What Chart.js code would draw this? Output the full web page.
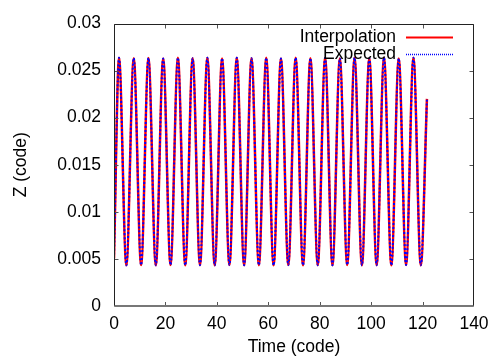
<!DOCTYPE html>
<html>
<head>
<meta charset="utf-8">
<script src="https://cdn.jsdelivr.net/npm/chart.js@4/dist/chart.umd.min.js"></script>
<style>
    html, body { margin: 0; padding: 0; background: #fff; }
    #wrap { width: 504px; height: 360px; }
</style>
</head>
<body>
<div id="wrap"><canvas id="zChart"></canvas></div>
<script>
// values (start, then peak / trough pairs, then end)
const seriesLabels = ['Interpolation', 'Expected'];
const timeValues = [
    0, 1.95, 4.81, 7.68, 10.54, 13.40, 16.26, 19.13, 21.99, 24.85, 27.71,
    30.58, 33.44, 36.30, 39.16, 42.03, 44.89, 47.75, 50.61, 53.48, 56.34,
    59.20, 62.06, 64.93, 67.79, 70.65, 73.51, 76.38, 79.24, 82.10, 84.96,
    87.83, 90.69, 93.55, 96.41, 99.28, 102.14, 105.00, 107.86, 110.73, 113.59,
    116.45, 119.31, 121.7
];
const zValues = [
    0.00505, 0.02635, 0.00432, 0.02632, 0.00435, 0.02634, 0.00432, 0.02628, 0.00436, 0.02636, 0.00432,
    0.02630, 0.00434, 0.02635, 0.00432, 0.02629, 0.00436, 0.02636, 0.00432, 0.02630, 0.00434,
    0.02635, 0.00432, 0.02628, 0.00436, 0.02636, 0.00432, 0.02631, 0.00434, 0.02635, 0.00432,
    0.02629, 0.00436, 0.02636, 0.00432, 0.02630, 0.00434, 0.02635, 0.00432, 0.02628, 0.00436,
    0.02636, 0.00432, 0.02200
];
const xTicks = [0, 20, 40, 60, 80, 100, 120, 140];
const yTicks = [0, 0.005, 0.01, 0.015, 0.02, 0.025, 0.03];

const points = timeValues.map((t, i) => ({ x: t, y: zValues[i] }));
const fontFamily = '"Liberation Sans", Arial, sans-serif';
const fontSize = 17.5;

// gnuplot style frame, inward ticks and right-aligned key
const framePlugin = {
    id: 'gnuplotFrame',
    afterDatasetsDraw(chart) {
        const ctx = chart.ctx;
        const area = chart.chartArea;
        const xs = chart.scales.x;
        const ys = chart.scales.y;
        const l = Math.round(area.left) + 0.5;
        const r = Math.round(area.right) - 0.5;
        const t = Math.round(area.top) + 0.5;
        const b = Math.round(area.bottom);
        ctx.save();
        ctx.strokeStyle = '#555';
        ctx.lineWidth = 1;
        ctx.beginPath();
        xTicks.forEach(v => {
            const px = Math.min(Math.round(xs.getPixelForValue(v)) + 0.5, r);
            ctx.moveTo(px, b); ctx.lineTo(px, b - 4);
            ctx.moveTo(px, t); ctx.lineTo(px, t + 4);
        });
        yTicks.forEach(v => {
            const py = Math.round(ys.getPixelForValue(v)) + 0.5;
            ctx.moveTo(l, py); ctx.lineTo(l + 4, py);
            ctx.moveTo(r, py); ctx.lineTo(r - 4, py);
        });
        ctx.stroke();

        ctx.strokeStyle = '#222';
        ctx.beginPath();
        ctx.moveTo(l, b); ctx.lineTo(l, t); ctx.lineTo(r, t); ctx.lineTo(r, b);
        ctx.stroke();
        ctx.strokeStyle = '#777';
        ctx.lineWidth = 2;
        ctx.beginPath();
        ctx.moveTo(l, b); ctx.lineTo(r, b);
        ctx.stroke();

        // key
        ctx.font = fontSize + 'px ' + fontFamily;
        ctx.textAlign = 'right';
        ctx.textBaseline = 'middle';
        ctx.fillStyle = '#000';
        chart.data.datasets.forEach((ds, i) => {
            const y = Math.round(area.top + 13 + i * 17.5);
            ctx.fillText(ds.label, area.right - 78, y);
            ctx.strokeStyle = ds.borderColor;
            ctx.lineWidth = ds.borderDash ? 1.5 : 2;
            ctx.setLineDash(ds.borderDash ? [1, 1] : []);
            ctx.beginPath();
            ctx.moveTo(area.right - 68, y + 0.5);
            ctx.lineTo(area.right - 21, y + 0.5);
            ctx.stroke();
            ctx.setLineDash([]);
        });
        ctx.restore();
    }
};

const zCtx = document.getElementById('zChart').getContext('2d');

const zChart = new Chart(zCtx, {
    type: 'line',
    data: {
        datasets: [
            {
                label: seriesLabels[0],
                data: points,
                borderColor: '#ff0000',
                borderWidth: 2.5,
                pointRadius: 0,
                fill: false,
                cubicInterpolationMode: 'monotone',
                order: 1
            },
            {
                label: seriesLabels[1],
                data: points.map(p => ({ x: p.x, y: p.y })),
                borderColor: '#0000ff',
                borderWidth: 2,
                borderDash: [2, 2],
                pointRadius: 0,
                fill: false,
                cubicInterpolationMode: 'monotone',
                order: 0
            }
        ]
    },
    options: {
        responsive: true,
        maintainAspectRatio: false,
        animation: false,
        layout: {
            padding: { left: 0, right: 30, top: 21, bottom: 0 }
        },
        plugins: {
            legend: { display: false },
            tooltip: { enabled: false }
        },
        scales: {
            x: {
                type: 'linear',
                min: 0,
                max: 140,
                afterBuildTicks: scale => { scale.ticks = xTicks.map(v => ({ value: v })); },
                afterFit: scale => { scale.height = 54; },
                grid: { display: false, drawTicks: false },
                border: { display: false },
                ticks: {
                    padding: 8,
                    color: '#000',
                    font: { family: fontFamily, size: fontSize }
                },
                title: {
                    display: true,
                    text: 'Time (code)',
                    color: '#000',
                    font: { family: fontFamily, size: fontSize },
                    padding: { top: 0, bottom: 2 }
                }
            },
            y: {
                type: 'linear',
                min: 0,
                max: 0.03,
                afterBuildTicks: scale => { scale.ticks = yTicks.map(v => ({ value: v })); },
                afterFit: scale => { scale.width = 114; },
                grid: { display: false, drawTicks: false },
                border: { display: false },
                ticks: {
                    padding: 13,
                    color: '#000',
                    font: { family: fontFamily, size: fontSize },
                    callback: v => String(Math.round(v * 1000) / 1000)
                },
                title: {
                    display: true,
                    text: 'Z (code)',
                    color: '#000',
                    font: { family: fontFamily, size: fontSize },
                    padding: { top: 11, bottom: 0 }
                }
            }
        }
    },
    plugins: [framePlugin]
});
</script>
</body>
</html>
